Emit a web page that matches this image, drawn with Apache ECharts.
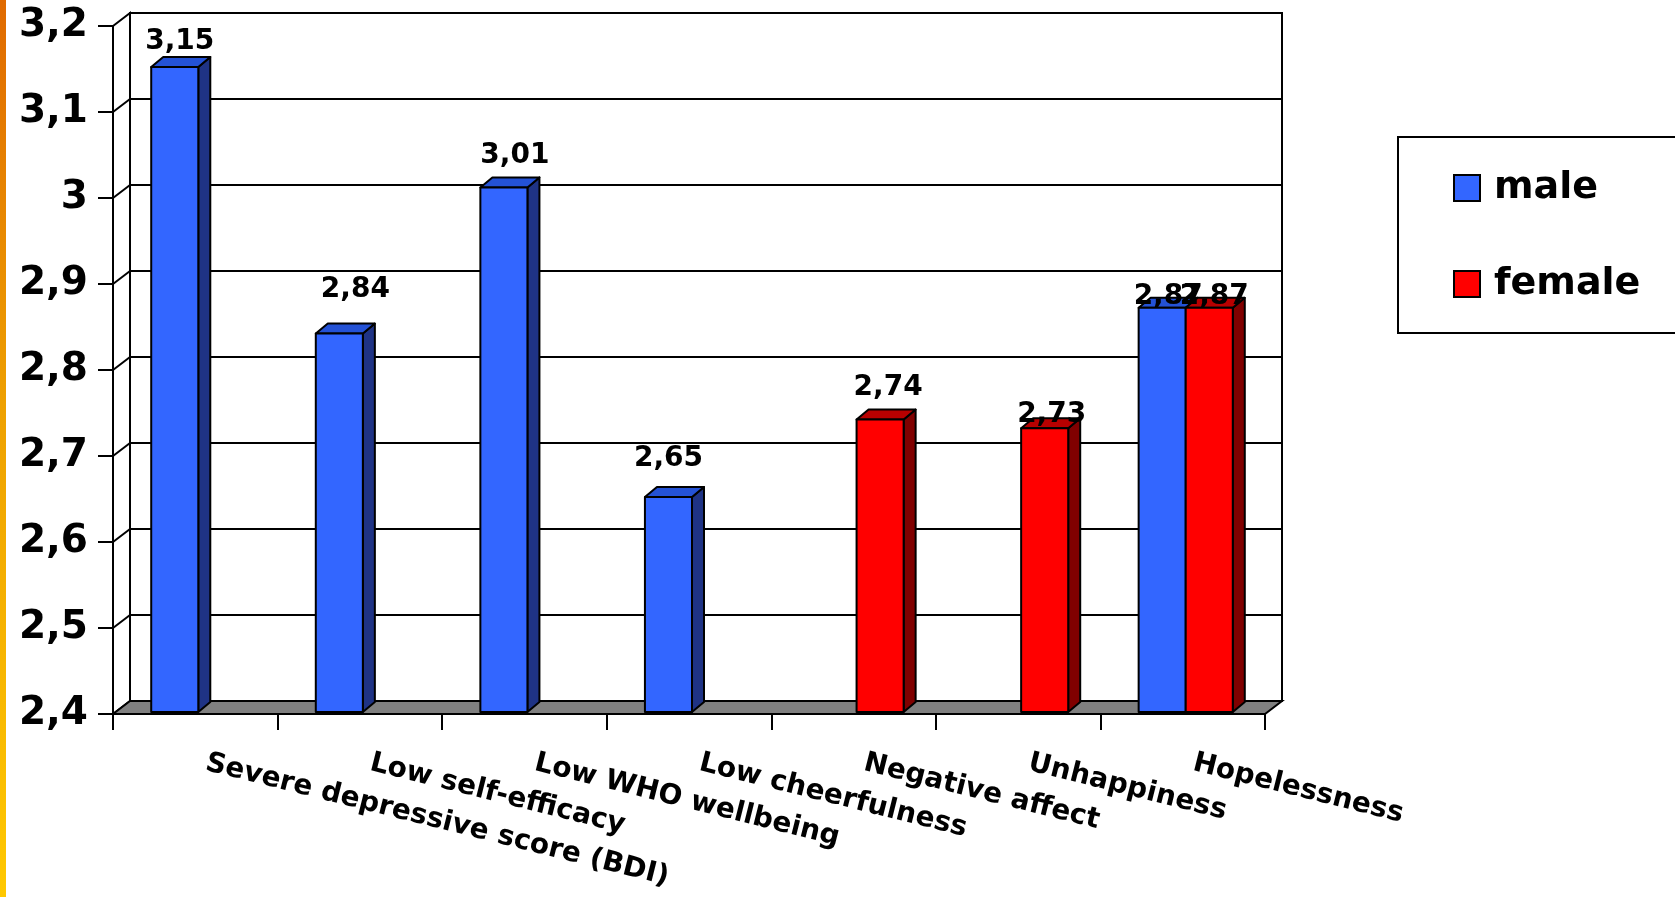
<!DOCTYPE html>
<html>
<head>
<meta charset="utf-8">
<script src="https://cdn.jsdelivr.net/npm/echarts@6/dist/echarts.min.js"></script>
<style>
  html, body { margin: 0; padding: 0; background: #ffffff; }
  #chart { width: 1675px; height: 897px; }
</style>
</head>
<body>
<div id="chart"></div>
<script>
// ---- data ----
const CATEGORIES = [
  'Severe depressive score (BDI)',
  'Low self-efficacy',
  'Low WHO wellbeing',
  'Low cheerfulness',
  'Negative affect',
  'Unhappiness',
  'Hopelessness'
];
const MALE   = [3.15, 2.84, 3.01, 2.65, null, null, 2.87];
const FEMALE = [null, null, null, null, 2.74, 2.73, 2.87];

const Y_MIN = 2.4;
const Y_MAX = 3.2;
const Y_STEP = 0.1;

// ---- style ----
const FONT = '"DejaVu Sans", Verdana, sans-serif';
const WALL_DX = 17, WALL_DY = -13;      // depth of the walls / floor
const BAR_DX = 12, BAR_DY = -10;        // depth of each bar
const BAR_SHIFT_X = 3, BAR_SHIFT_Y = -2; // bars stand slightly behind the front plane
const BAR_RATIO = 0.286;                // bar width as share of a category band

const COLORS = {
  male:   { front: '#3366FF', side: '#1F3385', top: '#2452D6' },
  female: { front: '#FF0000', side: '#800000', top: '#B80000' }
};

// data-label placement per bar: [shift right, lift above bar top]
const LABEL_NUDGE = {
  male:   [[5, 25], [16, 44], [11, 32], [0, 38], null, null, [6, 11]],
  female: [null, null, null, null, [8, 32], [7, 13], [5, 11]]
};

const fmtAxis = v => String(+(+v).toFixed(1)).replace('.', ',');
const fmtValue = v => v.toFixed(2).replace('.', ',');

function toPoints(arr) {
  const out = [];
  arr.forEach((v, i) => { if (v != null) out.push([i, v]); });
  return out;
}

// back wall, side wall, grid lines and floor
function renderFrame(params, api) {
  const cs = params.coordSys;
  const L = cs.x, R = cs.x + cs.width, T = cs.y, B = cs.y + cs.height;
  const dx = WALL_DX, dy = WALL_DY;
  const stroke = { stroke: '#000', lineWidth: 2 };
  const children = [];
  children.push({
    type: 'rect',
    shape: { x: L + dx, y: T + dy, width: cs.width, height: cs.height },
    style: Object.assign({ fill: '#fff' }, stroke)
  });
  children.push({
    type: 'polygon',
    shape: { points: [[L, T], [L + dx, T + dy], [L + dx, B + dy], [L, B]] },
    style: Object.assign({ fill: '#fff' }, stroke)
  });
  const n = Math.round((Y_MAX - Y_MIN) / Y_STEP);
  for (let k = 1; k < n; k++) {
    const y = api.coord([0, Y_MIN + k * Y_STEP])[1];
    children.push({ type: 'line', shape: { x1: L, y1: y, x2: L + dx, y2: y + dy }, style: stroke });
    children.push({ type: 'line', shape: { x1: L + dx, y1: y + dy, x2: R + dx, y2: y + dy }, style: stroke });
  }
  children.push({
    type: 'polygon',
    shape: { points: [[L, B], [R, B], [R + dx, B + dy], [L + dx, B + dy]] },
    style: Object.assign({ fill: '#808080' }, stroke)
  });
  return { type: 'group', children };
}

// 3D-looking bar: front face, side face, top face and value label
function makeBarRenderer(key, leftOfCenter) {
  const col = COLORS[key];
  return function (params, api) {
    const ci = api.value(0);
    const v = api.value(1);
    const c = api.coord([ci, v]);
    const b = api.coord([ci, Y_MIN]);
    const w = api.size([1, 0])[0] * BAR_RATIO;
    const x0 = c[0] + (leftOfCenter ? -w : 0) + BAR_SHIFT_X;
    const x1 = x0 + w;
    const yT = c[1] + BAR_SHIFT_Y;
    const yB = b[1] + BAR_SHIFT_Y;
    const edge = { stroke: '#000', lineWidth: 2, lineJoin: 'round' };
    const nudge = LABEL_NUDGE[key][ci] || [6, 25];
    return {
      type: 'group',
      children: [
        {
          type: 'polygon',
          shape: { points: [[x1, yT], [x1 + BAR_DX, yT + BAR_DY], [x1 + BAR_DX, yB + BAR_DY], [x1, yB]] },
          style: Object.assign({ fill: col.side }, edge)
        },
        {
          type: 'polygon',
          shape: { points: [[x0, yT], [x1, yT], [x1 + BAR_DX, yT + BAR_DY], [x0 + BAR_DX, yT + BAR_DY]] },
          style: Object.assign({ fill: col.top }, edge)
        },
        {
          type: 'rect',
          shape: { x: x0, y: yT, width: w, height: yB - yT },
          style: Object.assign({ fill: col.front }, edge)
        },
        {
          type: 'text',
          z2: 100,
          style: {
            text: fmtValue(v),
            x: (x0 + x1) / 2 + nudge[0],
            y: yT - nudge[1],
            fill: '#000',
            font: 'bold 28px ' + FONT,
            align: 'center',
            verticalAlign: 'middle'
          }
        }
      ]
    };
  };
}

const chart = echarts.init(document.getElementById('chart'), null, { renderer: 'canvas' });

chart.setOption({
  backgroundColor: '#ffffff',
  animation: false,
  grid: { left: 113, right: 410, top: 26, bottom: 183, containLabel: false },
  graphic: [
    {
      type: 'rect',
      left: 0, top: 0,
      shape: { width: 6, height: 897 },
      style: {
        fill: new echarts.graphic.LinearGradient(0, 0, 0, 1, [
          { offset: 0, color: '#E06A00' },
          { offset: 0.45, color: '#EEA000' },
          { offset: 1, color: '#FFC800' }
        ])
      },
      silent: true
    },
    {
      type: 'rect',
      left: 1397, top: 136,
      shape: { width: 300, height: 196 },
      style: { fill: '#fff', stroke: '#000', lineWidth: 2 },
      silent: true
    }
  ],
  legend: {
    data: ['male', 'female'],
    orient: 'vertical',
    left: 1453,
    top: 168,
    padding: 0,
    itemWidth: 26,
    itemHeight: 26,
    itemGap: 56,
    icon: 'rect',
    selectedMode: false,
    itemStyle: { borderColor: '#000', borderWidth: 2 },
    textStyle: {
      fontFamily: FONT, fontWeight: 'bold', fontSize: 38, color: '#000',
      lineHeight: 40, padding: [0, 0, 0, 9]
    }
  },
  xAxis: {
    type: 'category',
    data: CATEGORIES,
    axisLine: { show: true, lineStyle: { color: '#000', width: 2 } },
    axisTick: { show: true, length: 16, lineStyle: { color: '#000', width: 2 } },
    axisLabel: {
      interval: 0,
      rotate: -14,
      margin: 46,
      padding: [0, 0, 0, 11],
      color: '#000',
      fontFamily: FONT,
      fontWeight: 'bold',
      fontSize: 28
    },
    splitLine: { show: false }
  },
  yAxis: {
    type: 'value',
    min: Y_MIN,
    max: Y_MAX,
    interval: Y_STEP,
    axisLine: { show: true, lineStyle: { color: '#000', width: 2 } },
    axisTick: { show: true, length: 15, lineStyle: { color: '#000', width: 2 } },
    axisLabel: {
      margin: 25,
      color: '#000',
      fontFamily: FONT,
      fontWeight: 'bold',
      fontSize: 39,
      formatter: fmtAxis
    },
    splitLine: { show: false }
  },
  series: [
    {
      type: 'custom',
      name: 'frame',
      silent: true,
      z: 1,
      data: [[0, Y_MIN]],
      renderItem: renderFrame
    },
    {
      type: 'custom',
      name: 'male',
      z: 2,
      itemStyle: { color: COLORS.male.front },
      data: toPoints(MALE),
      renderItem: makeBarRenderer('male', true)
    },
    {
      type: 'custom',
      name: 'female',
      z: 2,
      itemStyle: { color: COLORS.female.front },
      data: toPoints(FEMALE),
      renderItem: makeBarRenderer('female', false)
    }
  ]
});
</script>
</body>
</html>
